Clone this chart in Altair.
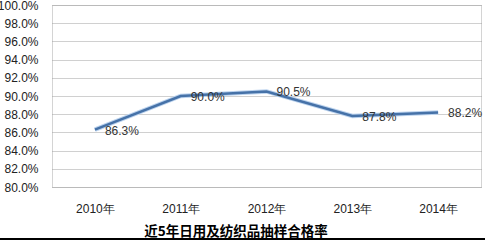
import altair as alt
import pandas as pd

years = ["2010年", "2011年", "2012年", "2013年", "2014年"]
rates = [86.3, 90.0, 90.5, 87.8, 88.2]
labels = ["86.3%", "90.0%", "90.5%", "87.8%", "88.2%"]
chart_title = "近5年日用及纺织品抽样合格率"

df = pd.DataFrame({"year": years, "rate": rates, "label": labels})

font = "Liberation Sans"

x = alt.X("year:N", sort=years, title=None,
          scale=alt.Scale(paddingInner=0, paddingOuter=0.5),
          axis=alt.Axis(labelAngle=0, ticks=False, domain=False, grid=False,
                        labelPadding=16, labelFont=font, labelFontSize=12,
                        labelColor="#222222"))
y = alt.Y("rate:Q", title=None,
          scale=alt.Scale(domain=[80, 100], nice=False, zero=False),
          axis=alt.Axis(values=[80, 82, 84, 86, 88, 90, 92, 94, 96, 98, 100],
                        labelExpr="format(datum.value, '.1f') + '%'",
                        ticks=False, domain=False, labelPadding=14,
                        labelFont=font, labelFontSize=12, labelColor="#222222",
                        gridColor="#a0a0a0", gridDash=[1, 1], gridWidth=1))

base = alt.Chart(df)

shadow = base.mark_line(color="#bcd3ee", strokeWidth=4.5).encode(x=x, y=y)
line = base.mark_line(color="#4672a8", strokeWidth=2.5).encode(x=x, y=y)
text = base.mark_text(align="left", baseline="middle", dx=10, dy=1,
                      font=font, fontSize=12, color="#333333").encode(
    x=x, y=y, text="label:N")
rule = base.mark_rule(color="#000000", strokeWidth=1.5).encode(
    x=alt.value(-52), x2=alt.value(433), y=alt.value(234))
title = alt.Chart(pd.DataFrame({"t": [chart_title]})).mark_text(
    align="center", baseline="middle", font="Noto Sans CJK SC", fontSize=13.5,
    fontWeight="bold", color="#000000").encode(
    x=alt.value(184), y=alt.value(227), text="t:N")

chart = (shadow + line + text + rule + title).properties(
    width=429, height=182,
    autosize=alt.AutoSizeParams(type="none"),
    padding={"left": 52, "top": 5, "right": 4, "bottom": 53},
    background="#ffffff",
).configure_view(stroke="#a8a8a8", strokeDash=[1, 1])

chart.save("out.html", embed_options={"renderer": "svg", "actions": False})
